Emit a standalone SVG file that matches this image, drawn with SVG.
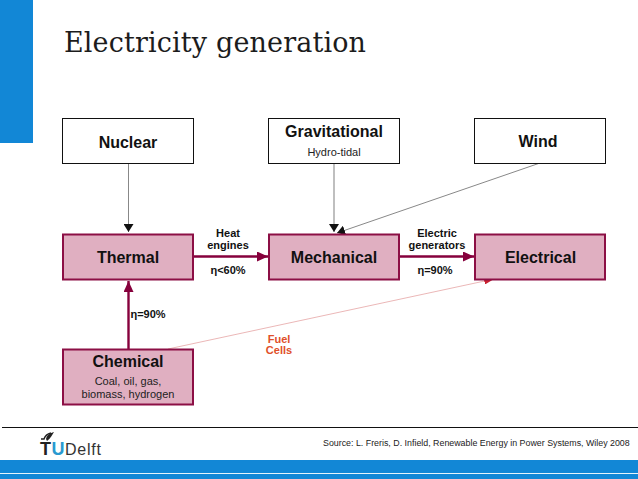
<svg xmlns="http://www.w3.org/2000/svg" width="638" height="479" viewBox="0 0 638 479">
<style>
text{font-family:"Liberation Sans",Arial,sans-serif;text-anchor:middle;fill:#111}
.b{font-weight:bold;font-size:16px}
.s{font-size:11px;fill:#222}
.l{font-weight:bold;font-size:11px}
.src{fill:#fff;stroke:#111;stroke-width:1}
.con{fill:#e0afc1;stroke:#8c0f45;stroke-width:2}
.thin{fill:none;stroke:#888;stroke-width:1}
.thick{fill:none;stroke:#86003c;stroke-width:2.4}
</style>
<defs>
<marker id="ak" markerUnits="userSpaceOnUse" markerWidth="8" markerHeight="10" refX="8" refY="5" orient="auto"><path d="M0 0L8 5L0 10Z" fill="#111"/></marker>
<marker id="am" markerUnits="userSpaceOnUse" markerWidth="11" markerHeight="10" refX="11" refY="5" orient="auto"><path d="M0 0L11 5L0 10Z" fill="#86003c"/></marker>
<marker id="ar" markerUnits="userSpaceOnUse" markerWidth="10" markerHeight="7" refX="10" refY="3.5" orient="auto"><path d="M0 0L10 3.5L0 7Z" fill="#c8202f"/></marker>
</defs>
<rect width="638" height="479" fill="#fff"/>
<rect id="corner-bar" x="0" y="0" width="33" height="143" fill="#1287d6"/>
<text id="title" x="64" y="52" textLength="302" lengthAdjust="spacing" style="font-family:'DejaVu Serif','Liberation Serif',serif;text-anchor:start;font-size:27px;fill:#1c1c1c">Electricity generation</text>

<g id="connectors">
<path class="thin" d="M128.500 163V232" marker-end="url(#ak)"/>
<path d="M334 163V232" fill="none" stroke="#aaa" stroke-width="1.500" marker-end="url(#ak)"/>
<path class="thin" d="M540 163L337 233" stroke-width=".8" marker-end="url(#ak)"/>
<path class="thick" d="M193 256.500H268" marker-end="url(#am)"/>
<path class="thick" d="M399 256.500H474" marker-end="url(#am)"/>
<path class="thick" d="M128.500 349V281" marker-end="url(#am)"/>
<path d="M168 349L494 279" fill="none" stroke="#e6a5a5" stroke-width=".8" marker-end="url(#ar)"/>
</g>

<g id="nuclear"><rect class="src" x="62.500" y="118.500" width="131" height="45"/><text class="b" x="128" y="147.500">Nuclear</text></g>
<g id="gravitational"><rect class="src" x="268.500" y="118.500" width="131" height="45"/><text class="b" x="334" y="137">Gravitational</text><text class="s" x="334" y="156">Hydro-tidal</text></g>
<g id="wind"><rect class="src" x="474.500" y="118.500" width="131" height="45"/><text class="b" x="538" y="146.500">Wind</text></g>
<g id="thermal"><rect class="con" x="63" y="234.500" width="130" height="45"/><text class="b" x="128" y="263">Thermal</text></g>
<g id="mechanical"><rect class="con" x="269" y="234.500" width="130" height="45"/><text class="b" x="334" y="263">Mechanical</text></g>
<g id="electrical"><rect class="con" x="475" y="234.500" width="130" height="45"/><text class="b" x="540.500" y="263">Electrical</text></g>
<g id="chemical"><rect class="con" x="63" y="349.500" width="130" height="55"/><text class="b" x="128" y="367">Chemical</text><text class="s" x="128" y="384.500">Coal, oil, gas,</text><text class="s" x="128" y="397.500">biomass, hydrogen</text></g>

<g id="labels">
<text class="l" x="228" y="237">Heat</text>
<text class="l" x="228" y="249">engines</text>
<text class="l" x="228" y="273.500">η&lt;60%</text>
<text class="l" x="437" y="237">Electric</text>
<text class="l" x="437" y="249">generators</text>
<text class="l" x="435" y="273.500">η=90%</text>
<text class="l" x="148" y="318">η=90%</text>
<text class="l" x="279" y="343" style="fill:#e0502a">Fuel</text>
<text class="l" x="279" y="354" style="fill:#e0502a">Cells</text>
</g>

<g id="footer">
<path d="M2 427.500H638" stroke="#111" stroke-width="1"/>
<path d="M51 433C47 434 45 436 44 439L41 439" fill="none" stroke="#222" stroke-width="1.500"/>
<path d="M46 439C47 435 50 433 54 432C52 435 51 438 47 441Z" fill="#222"/>
<text x="40" y="455" textLength="12" style="text-anchor:start;font-size:18px;font-weight:bold;fill:#222">T</text>
<text x="51.500" y="455" style="text-anchor:start;font-size:18px;font-weight:bold;fill:#2a9ad0">U</text>
<text x="65" y="455" textLength="36" style="text-anchor:start;font-size:16px;fill:#333">Delft</text>
<text x="323" y="446" style="text-anchor:start;font-size:8.850px;fill:#222">Source: L. Freris, D. Infield, Renewable Energy in Power Systems, Wiley 2008</text>
<rect x="0" y="460" width="638" height="13" fill="#1287d6"/>
<rect x="0" y="473" width="638" height="1" fill="#e6f4fb"/>
<rect x="0" y="474" width="638" height="5" fill="#1287d6"/>
</g>
</svg>
